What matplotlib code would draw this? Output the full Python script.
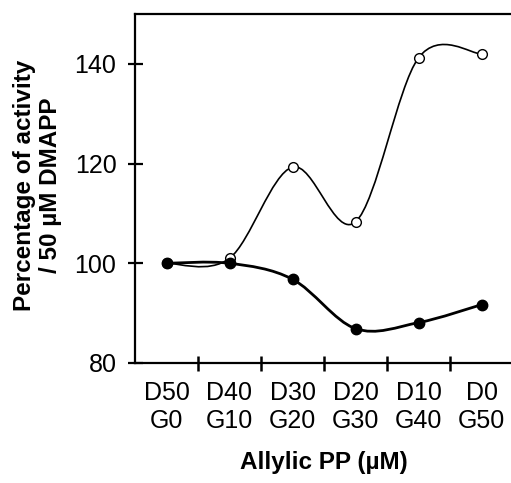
import numpy as np
import matplotlib
matplotlib.use("Agg")
import matplotlib.pyplot as plt
from matplotlib.path import Path
from matplotlib.patches import PathPatch

plt.rcParams["font.family"] = ["Liberation Sans", "DejaVu Sans"]

d_labels = ["D50", "D40", "D30", "D20", "D10", "D0"]
g_labels = ["G0", "G10", "G20", "G30", "G40", "G50"]
open_vals = [100, 101, 119.3, 108.3, 141.2, 142.0]
filled_vals = [100, 100, 96.8, 86.9, 88.1, 91.7]
y_ticks = [80, 100, 120, 140]


def smooth_path(xs, ys):
    # excel-style smoothed line: bezier segments with catmull-rom handles
    pts = np.column_stack([xs, ys]).astype(float)
    n = len(pts)
    verts = [pts[0]]
    codes = [Path.MOVETO]
    for i in range(n - 1):
        p0 = pts[i - 1] if i > 0 else pts[i]
        p1 = pts[i]
        p2 = pts[i + 1]
        p3 = pts[i + 2] if i + 2 < n else pts[i + 1]
        c1 = p1 + (p2 - p0) / 6.0
        c2 = p2 - (p3 - p1) / 6.0
        verts += [c1, c2, p2]
        codes += [Path.CURVE4] * 3
    return Path(verts, codes)


x = np.arange(len(d_labels))

fig = plt.figure(figsize=(5.11, 4.83), dpi=100)
ax = fig.add_axes([135 / 511, 1 - 363 / 483, 378 / 511, 349 / 483])

ax.add_patch(PathPatch(smooth_path(x, open_vals), fill=False, lw=1.2, color="black", zorder=2))
ax.plot(x, open_vals, ls="none", marker="o", ms=7, mfc="white", mec="black", mew=1.0, zorder=3)

ax.add_patch(PathPatch(smooth_path(x, filled_vals), fill=False, lw=2.0, color="black", zorder=4))
ax.plot(x, filled_vals, ls="none", marker="o", ms=7.5, mfc="black", mec="black", zorder=5)

ax.set_xlim(-0.5, len(d_labels) - 0.5)
ax.set_ylim(80, 150)

ax.set_yticks(y_ticks)
ax.tick_params(axis="y", direction="inout", length=10.8, width=1.6, pad=8, labelsize=18)

ax.set_xticks(np.arange(len(d_labels) - 1) + 0.5)
ax.set_xticklabels([])
ax.set_xticks(x, minor=True)
ax.set_xticklabels([f"{d}\n{g}" for d, g in zip(d_labels, g_labels)], minor=True)
ax.tick_params(axis="x", which="major", direction="inout", length=10.8, width=1.8)
ax.tick_params(axis="x", which="minor", length=0, pad=13, labelsize=18)

for s in ax.spines.values():
    s.set_linewidth(1.6)

fig.text(37.5 / 511, 1 - 185.5 / 483, "Percentage of activity\n/ 50 µM DMAPP",
         rotation=90, ha="center", va="center", fontsize=17.5, fontweight="bold",
         multialignment="center", linespacing=1.15)
fig.text(324 / 511, 1 - 463 / 483, "Allylic PP (µM)", ha="center", va="center",
         fontsize=17.5, fontweight="bold")

fig.savefig("out.png", dpi=100)
